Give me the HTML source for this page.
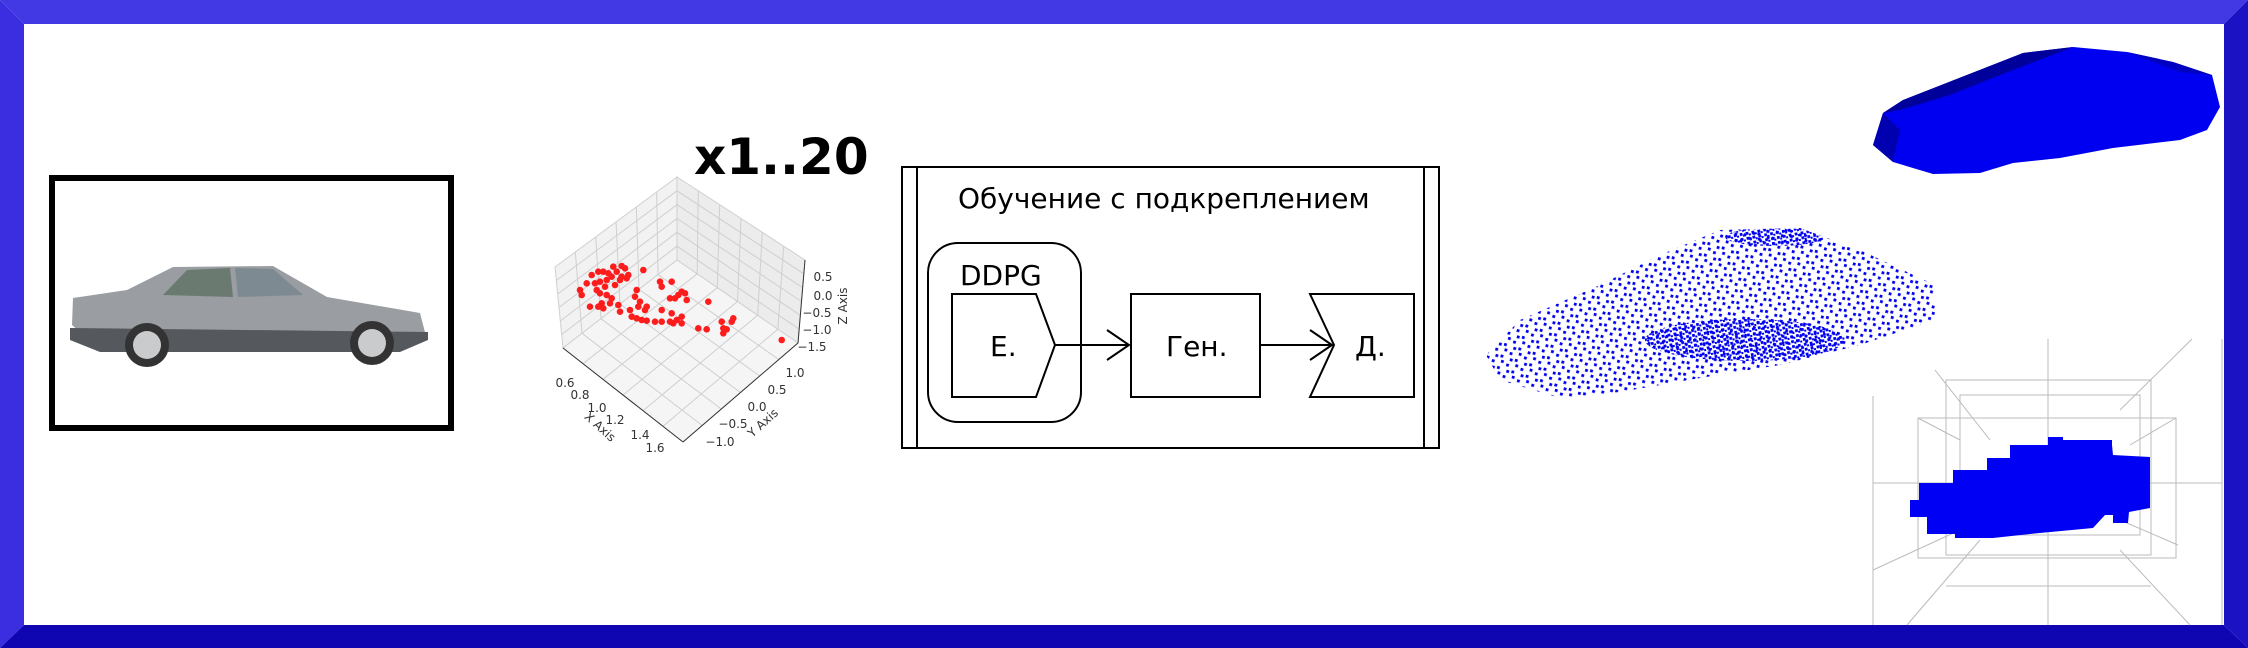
<!DOCTYPE html>
<html><head><meta charset="utf-8"><style>
html,body{margin:0;padding:0;background:#fff}
svg{display:block}
text{font-family:"DejaVu Sans","Liberation Sans",sans-serif}
</style></head><body>
<svg width="2248" height="648" viewBox="0 0 2248 648" xmlns="http://www.w3.org/2000/svg">
<defs>
<pattern id="pa" width="15" height="12" patternUnits="userSpaceOnUse" patternTransform="rotate(17)">
<rect x="2" y="3" width="2.8" height="2.8" fill="#0000f0"/><rect x="9" y="8" width="2.8" height="2.8" fill="#0000f0"/><rect x="11" y="1" width="2.8" height="2.8" fill="#0000f0"/><rect x="4" y="9" width="2.8" height="2.8" fill="#0000f0"/>
</pattern>
<pattern id="pb" width="6" height="5" patternUnits="userSpaceOnUse" patternTransform="rotate(-11)">
<rect x="1" y="1" width="2.8" height="2.8" fill="#0000f0"/><rect x="4" y="3" width="2.6" height="2.6" fill="#0000f0"/>
</pattern>
<clipPath id="cloud"><polygon points="1486,355 1520,320 1600,285 1660,255 1720,230 1800,228 1860,250 1935,285 1935,320 1860,345 1780,365 1700,378 1620,392 1560,398 1500,380"/></clipPath>
</defs>
<rect width="2248" height="648" fill="#fff"/>
<polygon points="0,0 2248,0 2224,24 24,24" fill="#4339e4"/>
<polygon points="0,0 24,24 24,625 0,648" fill="#3a2ee0"/>
<polygon points="0,648 24,625 2224,625 2248,648" fill="#0f06b2"/>
<polygon points="2248,0 2248,648 2224,625 2224,24" fill="#1b12c4"/>

<rect x="52" y="178" width="399" height="250" fill="#fff" stroke="#000" stroke-width="6"/>
<g>
<path d="M72,325 L73,298 L127,290 L173,267 L273,266 L327,297 L420,313 L427,340 L400,350 L100,350 Z" fill="#9a9da1"/>
<path d="M70,328 L428,332 L428,340 L400,352 L100,352 L70,340Z" fill="#55585c"/>
<path d="M163,295 L187,270 L230,268 L233,297Z" fill="#6b7a70"/>
<path d="M238,297 L235,268 L273,269 L303,295Z" fill="#7d8a92"/>
<circle cx="147" cy="345" r="22" fill="#333"/><circle cx="147" cy="345" r="14" fill="#c9cbcd"/>
<circle cx="372" cy="343" r="22" fill="#333"/><circle cx="372" cy="343" r="14" fill="#c9cbcd"/>
</g>

<g stroke="#d0d0d0" stroke-width="1">
<polygon points="555,267 677,177 677,260 563,348" fill="#f2f2f2"/>
<polygon points="677,177 805,260 798,343 677,260" fill="#ececec"/>
<polygon points="563,348 677,260 798,343 683,442" fill="#f5f5f5"/>
</g>
<g stroke="#cfcfcf" stroke-width="1" fill="none">
<line x1="575.3" y1="252" x2="582" y2="333.3"/><line x1="595.7" y1="237" x2="601" y2="318.7"/><line x1="616" y1="222" x2="620" y2="304"/><line x1="636.3" y1="207" x2="639" y2="289.3"/><line x1="656.7" y1="192" x2="658" y2="274.7"/>
<line x1="556.3" y1="280.5" x2="677" y2="190.8"/><line x1="557.7" y1="294" x2="677" y2="204.7"/><line x1="559" y1="307.5" x2="677" y2="218.5"/><line x1="560.3" y1="321" x2="677" y2="232.3"/><line x1="561.7" y1="334.5" x2="677" y2="246.2"/>
<line x1="698.3" y1="190.8" x2="697.2" y2="273.8"/><line x1="719.7" y1="204.7" x2="717.3" y2="287.7"/><line x1="741" y1="218.5" x2="737.5" y2="301.5"/><line x1="762.3" y1="232.3" x2="757.7" y2="315.3"/><line x1="783.7" y1="246.2" x2="777.8" y2="329.2"/>
<line x1="677" y1="190.8" x2="803.8" y2="273.8"/><line x1="677" y1="204.7" x2="802.7" y2="287.7"/><line x1="677" y1="218.5" x2="801.5" y2="301.5"/><line x1="677" y1="232.3" x2="800.3" y2="315.3"/><line x1="677" y1="246.2" x2="799.2" y2="329.2"/>
<line x1="582" y1="333.3" x2="702.2" y2="425.5"/><line x1="601" y1="318.7" x2="721.3" y2="409"/><line x1="620" y1="304" x2="740.5" y2="392.5"/><line x1="639" y1="289.3" x2="759.7" y2="376"/><line x1="658" y1="274.7" x2="778.8" y2="359.5"/>
<line x1="583" y1="363.7" x2="697.2" y2="273.8"/><line x1="603" y1="379.3" x2="717.3" y2="287.7"/><line x1="623" y1="395" x2="737.5" y2="301.5"/><line x1="643" y1="410.7" x2="757.7" y2="315.3"/><line x1="663" y1="426.3" x2="777.8" y2="329.2"/>
</g>
<g stroke="#333" stroke-width="1"><line x1="563" y1="348" x2="683" y2="442"/><line x1="683" y1="442" x2="798" y2="343"/><line x1="798" y1="343" x2="805" y2="260"/></g>
<g font-size="12" fill="#333" text-anchor="middle">
<text x="565" y="387">0.6</text><text x="580" y="399">0.8</text><text x="597" y="412">1.0</text><text x="615" y="424">1.2</text><text x="640" y="439">1.4</text><text x="655" y="452">1.6</text>
<text x="795" y="377">1.0</text><text x="777" y="394">0.5</text><text x="757" y="411">0.0</text><text x="733" y="428">−0.5</text><text x="720" y="446">−1.0</text>
<text x="823" y="281">0.5</text><text x="823" y="300">0.0</text><text x="817" y="317">−0.5</text><text x="817" y="334">−1.0</text><text x="812" y="351">−1.5</text>
<text x="600" y="431" transform="rotate(42 600 427)">X Axis</text>
<text x="763" y="427" transform="rotate(-42 763 423)">Y Axis</text>
<text x="843" y="310" transform="rotate(-90 843 306)">Z Axis</text>
</g>
<g fill="#f00" opacity="0.88">
<circle cx="591.7" cy="275" r="3.3"/><circle cx="598.3" cy="271.7" r="3.3"/><circle cx="603.3" cy="271.7" r="3.3"/><circle cx="613.3" cy="266.7" r="3.3"/><circle cx="621.7" cy="266" r="3.3"/><circle cx="625" cy="268.3" r="3.3"/><circle cx="628.3" cy="275" r="3.3"/><circle cx="621.7" cy="276.7" r="3.3"/><circle cx="616.7" cy="271.7" r="3.3"/><circle cx="611.7" cy="276.7" r="3.3"/><circle cx="606.7" cy="280" r="3.3"/><circle cx="600" cy="281.7" r="3.3"/><circle cx="595" cy="283.3" r="3.3"/><circle cx="586.7" cy="283.3" r="3.3"/><circle cx="580" cy="290" r="3.3"/><circle cx="581.7" cy="295" r="3.3"/><circle cx="590" cy="306.7" r="3.3"/><circle cx="598.3" cy="306.7" r="3.3"/><circle cx="601.7" cy="303.3" r="3.3"/><circle cx="603.3" cy="308.3" r="3.3"/><circle cx="610" cy="303.3" r="3.3"/><circle cx="618.3" cy="305" r="3.3"/><circle cx="611.7" cy="298.3" r="3.3"/><circle cx="606.7" cy="295" r="3.3"/><circle cx="600" cy="293.3" r="3.3"/><circle cx="596.7" cy="290" r="3.3"/><circle cx="605" cy="286.7" r="3.3"/><circle cx="615" cy="285" r="3.3"/><circle cx="620" cy="280" r="3.3"/><circle cx="608.3" cy="273.3" r="3.3"/><circle cx="626.7" cy="278.3" r="3.3"/><circle cx="643.3" cy="270" r="3.3"/><circle cx="636.7" cy="290" r="3.3"/><circle cx="635" cy="296.7" r="3.3"/><circle cx="640" cy="301.7" r="3.3"/><circle cx="638.3" cy="306.7" r="3.3"/><circle cx="646.7" cy="306.7" r="3.3"/><circle cx="645" cy="310" r="3.3"/><circle cx="630" cy="310" r="3.3"/><circle cx="631.7" cy="316.7" r="3.3"/><circle cx="636.7" cy="318.3" r="3.3"/><circle cx="641.7" cy="320" r="3.3"/><circle cx="646.7" cy="320.7" r="3.3"/><circle cx="655" cy="321.7" r="3.3"/><circle cx="661.7" cy="321.7" r="3.3"/><circle cx="661.7" cy="310" r="3.3"/><circle cx="660" cy="281.7" r="3.3"/><circle cx="661.7" cy="286.7" r="3.3"/><circle cx="671.7" cy="281.7" r="3.3"/><circle cx="671.7" cy="313.3" r="3.3"/><circle cx="670" cy="321.7" r="3.3"/><circle cx="673.3" cy="323.3" r="3.3"/><circle cx="676.7" cy="320" r="3.3"/><circle cx="681.7" cy="323.3" r="3.3"/><circle cx="681.7" cy="316.7" r="3.3"/><circle cx="670" cy="298.3" r="3.3"/><circle cx="675" cy="298.3" r="3.3"/><circle cx="678.3" cy="295" r="3.3"/><circle cx="681.7" cy="291.7" r="3.3"/><circle cx="685" cy="293.3" r="3.3"/><circle cx="686.7" cy="300" r="3.3"/><circle cx="708.3" cy="301.7" r="3.3"/><circle cx="698.3" cy="328.3" r="3.3"/><circle cx="706.7" cy="329.3" r="3.3"/><circle cx="721.7" cy="321.7" r="3.3"/><circle cx="723.3" cy="328.3" r="3.3"/><circle cx="726.7" cy="329.3" r="3.3"/><circle cx="723.3" cy="333.3" r="3.3"/><circle cx="731.7" cy="321.7" r="3.3"/><circle cx="733.3" cy="318.3" r="3.3"/><circle cx="781.7" cy="340" r="3.3"/><circle cx="620" cy="311.7" r="3.3"/>
</g>
<text x="694" y="174" font-size="50" font-weight="bold" fill="#000">x1..20</text>

<g stroke="#000" stroke-width="2" fill="none">
<rect x="902" y="167" width="537" height="281"/>
<line x1="917" y1="167" x2="917" y2="448"/><line x1="1424" y1="167" x2="1424" y2="448"/>
<rect x="928" y="243" width="153" height="179" rx="30"/>
<polygon points="952,294 1036,294 1055,345 1036,397 952,397"/>
<rect x="1131" y="294" width="129" height="103"/>
<polygon points="1310,294 1414,294 1414,397 1310,397 1334,345"/>
<line x1="1055" y1="345" x2="1129" y2="345"/><polyline points="1107,330 1129,345 1107,360"/>
<line x1="1260" y1="345" x2="1332" y2="345"/><polyline points="1310,330 1332,345 1310,360"/>
</g>
<g font-size="28" fill="#000">
<text x="958" y="208">Обучение с подкреплением</text>
<text x="960" y="285">DDPG</text>
<text x="990" y="356">Е.</text>
<text x="1166" y="356">Ген.</text>
<text x="1355" y="356">Д.</text>
</g>

<g clip-path="url(#cloud)">
<rect x="1480" y="220" width="460" height="185" fill="url(#pa)"/>
<ellipse cx="1745" cy="340" rx="100" ry="21" fill="url(#pb)"/>
<ellipse cx="1775" cy="237" rx="50" ry="9" fill="url(#pb)"/>
</g>

<polygon points="1873,145 1883,113 1903,100 2023,53 2073,47 2127,52 2173,62 2212,75 2220,107 2207,130 2180,140 2113,148 2060,158 2013,163 1980,173 1933,174 1893,162" fill="#0000f0"/>
<polygon points="1883,113 1903,100 2023,53 2073,47 2000,75 1950,95 1900,110" fill="#00009a"/>
<polygon points="1873,145 1883,113 1900,130 1893,162" fill="#0000b0"/>
<polygon points="2127,52 2173,62 2212,75 2180,72" fill="#0000c0"/>

<g stroke="#bbb" stroke-width="1" fill="none">
<line x1="2048" y1="339" x2="2048" y2="625"/><line x1="1873" y1="483" x2="2222" y2="483"/>
<line x1="1873" y1="396" x2="1873" y2="625"/><line x1="2222" y1="339" x2="2222" y2="625"/>
<rect x="1946" y="380" width="205" height="175"/><rect x="1918" y="418" width="258" height="140"/>
<rect x="1960" y="395" width="180" height="140"/>
<line x1="1935" y1="370" x2="1990" y2="440"/><line x1="2192" y1="339" x2="2120" y2="410"/>
<line x1="1873" y1="570" x2="1960" y2="530"/><line x1="1907" y1="625" x2="1980" y2="540"/>
<line x1="2190" y1="625" x2="2120" y2="550"/><line x1="2178" y1="545" x2="2120" y2="520"/>
<line x1="1918" y1="418" x2="1960" y2="440"/><line x1="2176" y1="418" x2="2130" y2="445"/>
<line x1="1946" y1="586" x2="2151" y2="586"/>
</g>
<polygon points="1910,500 1919,500 1919,483 1953,483 1953,470 1987,470 1987,458 2010,458 2010,445 2048,445 2048,437 2063,437 2063,440 2112,440 2112,445 2113,455 2150,457 2150,508 2129,512 2128,523 2113,523 2113,515 2105,515 2093,528 2030,534 1993,538 1955,538 1955,534 1927,534 1927,517 1910,517" fill="#0000f5"/>
</svg>
</body></html>
